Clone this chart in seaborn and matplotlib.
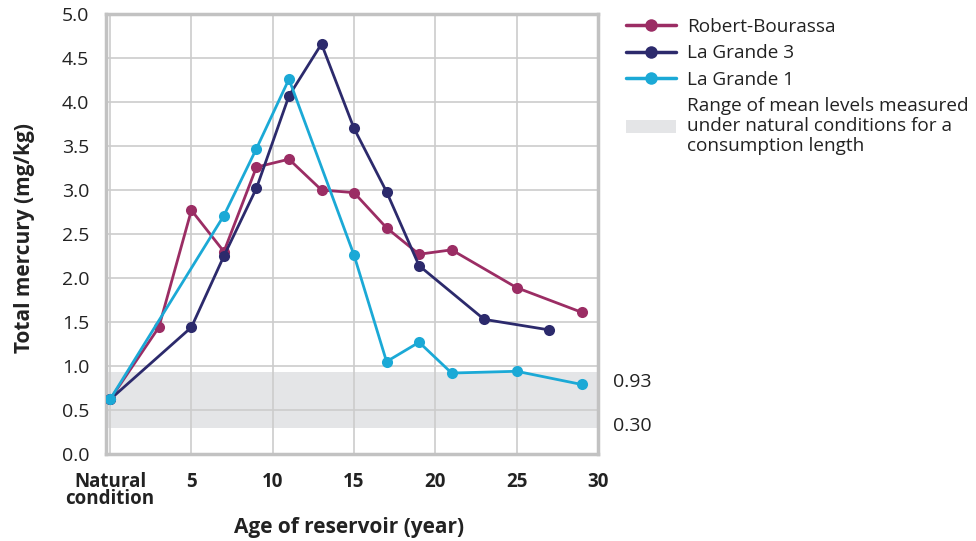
import matplotlib
matplotlib.use("Agg")
import matplotlib.pyplot as plt
import seaborn as sns
import pandas as pd
from matplotlib.patches import Patch
from matplotlib.lines import Line2D

# ---- data ----
rb_years = [0, 3, 5, 7, 9, 11, 13, 15, 17, 19, 21, 25, 29]
rb_values = [0.62, 1.44, 2.77, 2.30, 3.26, 3.35, 3.00, 2.97, 2.57, 2.27, 2.32, 1.89, 1.61]

lg3_years = [0, 5, 7, 9, 11, 13, 15, 17, 19, 23, 27]
lg3_values = [0.62, 1.44, 2.25, 3.02, 4.07, 4.66, 3.70, 2.98, 2.14, 1.53, 1.41]

lg1_years = [0, 7, 9, 11, 15, 17, 19, 21, 25, 29]
lg1_values = [0.62, 2.71, 3.47, 4.26, 2.26, 1.05, 1.27, 0.92, 0.94, 0.79]

series_names = ["Robert-Bourassa", "La Grande 3", "La Grande 1"]
band_low, band_high = 0.30, 0.93
band_label = "Range of mean levels measured\nunder natural conditions for a\nconsumption length"

x_ticks = [0, 5, 10, 15, 20, 25, 30]
x_ticklabels = ["Natural\ncondition", "5", "10", "15", "20", "25", "30"]
y_ticks = [0.0, 0.5, 1.0, 1.5, 2.0, 2.5, 3.0, 3.5, 4.0, 4.5, 5.0]

colors = ["#9b2d64", "#2c2a6c", "#1ba9d6"]
band_color = "#e4e5e7"
text_color = "#222222"

df = pd.concat([
    pd.DataFrame({"year": rb_years, "value": rb_values, "series": series_names[0]}),
    pd.DataFrame({"year": lg3_years, "value": lg3_values, "series": series_names[1]}),
    pd.DataFrame({"year": lg1_years, "value": lg1_values, "series": series_names[2]}),
])

sns.set_theme(style="white")
plt.rcParams["font.family"] = ["Open Sans", "DejaVu Sans"]

W, H = 976, 541
fig = plt.figure(figsize=(W / 100, H / 100), dpi=100)
ax = fig.add_axes([106 / W, (H - 454) / H, 492 / W, 440 / H])

ax.axhspan(band_low, band_high, color=band_color, lw=0, zorder=0.5)

sns.lineplot(data=df, x="year", y="value", hue="series", hue_order=series_names,
             palette=colors, marker="o", markersize=8, markeredgewidth=0,
             linewidth=2, ax=ax, legend=False, zorder=3, sort=False)

ax.set_xlim(-0.25, 30)
ax.set_ylim(0, 5.0)
ax.set_xticks(x_ticks)
ax.set_xticklabels(x_ticklabels, fontweight="bold", fontsize=13.5, linespacing=0.8)
ax.set_yticks(y_ticks)
ax.set_yticklabels([f"{v:.1f}" for v in y_ticks], fontsize=14)
ax.tick_params(axis="both", length=0, colors=text_color)
ax.tick_params(axis="y", pad=12)
ax.tick_params(axis="x", pad=13)

ax.grid(True, color="#cccccc", linewidth=1.2)
ax.set_axisbelow(True)
for s in ax.spines.values():
    s.set_visible(True)
    s.set_color("#c2c2c2")
    s.set_linewidth(2.5)

ax.set_xlabel("Age of reservoir (year)", fontweight="bold", fontsize=15, color=text_color)
ax.xaxis.set_label_coords((349 - 106) / 492, (454 - 517) / 440)
ax.set_ylabel("Total mercury (mg/kg)", fontweight="bold", fontsize=15, color=text_color)
ax.yaxis.set_label_coords((24 - 106) / 492, (454 - 238) / 440)
ax.yaxis.label.set_va("center")

ax.annotate("0.93", xy=(1, band_high), xycoords=("axes fraction", "data"),
            xytext=(11, -7), textcoords="offset points", va="center", ha="left",
            fontsize=14, color=text_color)
ax.annotate("0.30", xy=(1, band_low), xycoords=("axes fraction", "data"),
            xytext=(11, 1.5), textcoords="offset points", va="center", ha="left",
            fontsize=14, color=text_color)

handles = [Line2D([0], [0], color=c, lw=2.5, marker="o", markersize=9, markeredgewidth=0)
           for c in colors]
handles.append(Patch(facecolor=band_color, edgecolor="none"))
labels = series_names + [band_label]
leg = fig.legend(handles, labels, loc="upper left", bbox_to_anchor=(618 / W, 1 - 10 / H),
                 frameon=False, fontsize=13.7, handlelength=2.65, handletextpad=0.6,
                 labelspacing=0.45, borderaxespad=0)
for t in leg.get_texts():
    t.set_color(text_color)
    t.set_linespacing(1.15)

fig.savefig("out.png", dpi=100)
